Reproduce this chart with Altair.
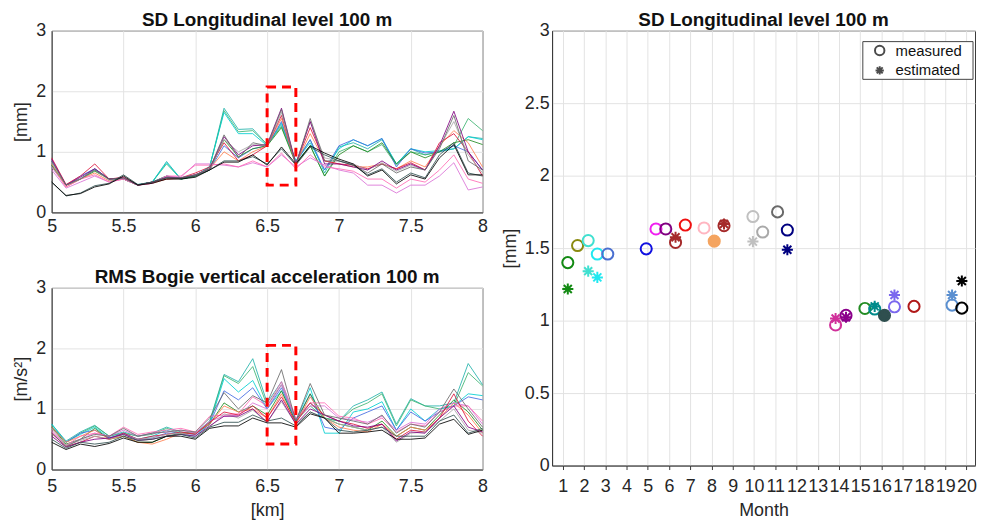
import altair as alt
import pandas as pd

FONT = "Liberation Sans"

# ---------------- left panels: km positions ----------------
km = [5.0, 5.1, 5.2, 5.3, 5.4, 5.5, 5.6, 5.7, 5.8, 5.9, 6.0,
      6.1, 6.2, 6.3, 6.4, 6.5, 6.6, 6.7, 6.8, 6.9, 7.0,
      7.1, 7.2, 7.3, 7.4, 7.5, 7.6, 7.7, 7.8, 7.9, 8.0]

# SD Longitudinal level 100 m  [mm]
top_colors = ["#20B2AA", "#3CB371", "#00CED1", "#4169E1", "#228B22", "#FF7F50",
              "#DA70D6", "#FF69B4", "#DC143C", "#A9A9A9", "#800080", "#696969",
              "#2F4F4F", "#000000"]
top_series = [
    [.78, .45, .55, .70, .55, .55, .45, .50, .84, .55, .60, .75, 1.72, 1.37, 1.38, 1.12, 1.45, .85, 1.20, .65, 1.08, 1.15, 1.05, 1.20, .80, 1.05, .95, 1.00, 1.05, 1.25, 1.22],
    [.80, .45, .55, .72, .55, .56, .45, .50, .80, .55, .60, .75, 1.68, 1.33, 1.35, 1.12, 1.42, .82, 1.10, .60, 1.00, 1.10, 1.00, 1.12, .78, 1.00, .95, 1.00, 1.10, 1.55, 1.35],
    [.75, .45, .55, .70, .55, .55, .46, .50, .82, .55, .60, .76, 1.65, 1.30, 1.30, 1.10, 1.48, .85, 1.15, .70, 1.05, 1.20, 1.10, 1.22, .80, 1.05, 1.00, 1.02, 1.05, 1.25, 1.20],
    [.85, .45, .60, .72, .55, .55, .45, .50, .60, .56, .62, .70, 1.10, .90, 1.05, 1.10, 1.50, .82, 1.20, .70, 1.10, 1.20, 1.10, 1.22, .75, 1.05, .98, 1.00, 1.10, 1.00, .70],
    [.78, .45, .55, .68, .55, .55, .45, .50, .60, .55, .60, .70, 1.20, .92, 1.05, 1.10, 1.40, .80, 1.10, .60, .95, 1.10, 1.00, 1.15, .80, 1.00, .90, 1.00, 1.15, 1.20, 1.12],
    [.80, .42, .55, .65, .52, .55, .45, .48, .55, .56, .62, .72, 1.00, .85, 1.00, 1.10, 1.55, .80, 1.30, .85, .80, .75, .75, .80, .72, .85, .75, 1.10, 1.35, 1.15, .75],
    [.70, .40, .50, .60, .50, .55, .45, .48, .60, .58, .80, .80, .78, .75, .82, .75, .95, .75, .90, .78, .70, .65, .45, .45, .32, .45, .45, .60, .82, .37, .42],
    [.75, .42, .55, .62, .50, .55, .45, .48, .60, .60, .78, .78, .80, .75, .85, .75, .98, .72, .95, .75, .72, .68, .55, .55, .40, .55, .50, .70, .95, .55, .48],
    [.90, .46, .60, .80, .55, .58, .45, .50, .55, .57, .65, .75, 1.15, .85, .95, 1.10, 1.60, .80, 1.40, .85, .80, .78, .72, .80, .72, .82, .70, 1.15, 1.30, 1.00, .60],
    [.82, .45, .55, .70, .53, .56, .45, .50, .58, .57, .62, .72, 1.20, 1.00, 1.12, 1.10, 1.65, .80, 1.50, .90, .85, .80, .70, .82, .68, .78, .70, 1.08, 1.50, .95, .65],
    [.88, .45, .58, .72, .55, .57, .45, .50, .58, .57, .62, .72, 1.25, .95, 1.10, 1.12, 1.72, .80, 1.50, .80, .80, .75, .70, .85, .70, .80, .70, 1.10, 1.67, 1.00, .70],
    [.85, .45, .55, .70, .55, .57, .45, .50, .57, .57, .62, .72, 1.28, .90, 1.15, 1.10, 1.70, .78, 1.55, .85, .85, .78, .65, .80, .65, .75, .70, 1.05, 1.60, .85, .70],
    [.50, .27, .32, .44, .48, .62, .46, .50, .57, .56, .60, .70, .85, .85, .92, .80, 1.05, .78, 1.08, .95, .85, .78, .62, .72, .50, .65, .57, .95, 1.15, .65, .60],
    [.50, .28, .31, .42, .47, .60, .45, .48, .55, .55, .58, .70, .83, .83, .95, .78, 1.08, .80, 1.10, .98, .88, .80, .60, .70, .47, .62, .55, .90, 1.12, .62, .62],
]

# RMS Bogie vertical acceleration 100 m  [m/s2]
bot_colors = ["#40E0D0", "#00CED1", "#2E8B57", "#9ACD32", "#F4A460", "#FFA07A",
              "#4682B4", "#4169E1", "#BA55D3", "#C71585", "#8B008B", "#483D8B",
              "#2F4F4F", "#000000"]
bot_series = [
    [.75, .47, .62, .73, .55, .62, .55, .60, .70, .62, .60, .80, 1.57, 1.45, 1.83, 1.10, 1.45, .82, 1.10, .85, .80, 1.05, 1.15, 1.28, .75, 1.17, 1.05, 1.05, 1.10, 1.75, 1.40],
    [.72, .45, .60, .72, .55, .60, .55, .58, .68, .60, .60, .78, 1.55, 1.42, 1.70, 1.05, 1.40, .80, 1.05, .85, .80, 1.00, 1.10, 1.25, .72, 1.15, 1.05, 1.00, 1.05, 1.60, 1.38],
    [.75, .45, .58, .70, .52, .58, .50, .55, .65, .58, .55, .75, 1.50, 1.28, 1.47, 1.00, 1.30, .80, 1.35, .60, .60, .95, 1.00, 1.12, .65, 1.00, .80, 1.00, 1.05, 1.25, 1.22],
    [.70, .45, .60, .65, .52, .60, .50, .52, .60, .60, .58, .75, 1.30, 1.15, 1.35, 1.00, 1.35, .80, 1.25, .70, .65, .85, .95, 1.05, .65, .95, .80, .95, 1.05, 1.20, 1.15],
    [.70, .42, .50, .68, .50, .55, .45, .45, .55, .60, .60, .75, 1.10, .95, 1.05, .90, 1.30, .78, 1.25, .85, .75, .70, .65, .80, .55, .70, .65, .90, 1.15, .95, .65],
    [.70, .45, .55, .65, .50, .55, .45, .42, .50, .60, .60, .75, 1.05, .95, 1.00, .85, 1.25, .75, 1.20, .85, .70, .65, .62, .75, .55, .70, .65, .85, 1.10, .90, .60],
    [.62, .40, .50, .60, .55, .65, .55, .60, .62, .65, .60, .80, .88, .90, 1.10, 1.00, 1.40, .82, 1.05, 1.05, .85, .82, .78, .88, .65, .78, .75, 1.00, 1.10, 1.05, .75],
    [.65, .40, .55, .60, .55, .70, .58, .62, .65, .68, .62, .88, .90, .92, 1.20, 1.05, 1.45, .85, 1.10, 1.10, .88, .85, .75, .85, .62, .75, .72, .95, 1.05, 1.05, .80],
    [.60, .38, .45, .55, .50, .60, .50, .55, .58, .62, .58, .78, .95, .90, 1.05, .85, 1.20, .78, 1.10, .90, .80, .75, .68, .75, .50, .65, .62, .85, 1.25, .80, .55],
    [.68, .40, .48, .55, .50, .58, .50, .52, .58, .60, .55, .70, .92, .85, .98, .78, 1.12, .75, .95, .85, .75, .70, .65, .70, .45, .60, .62, .80, 1.00, .65, .60],
    [.55, .37, .45, .50, .52, .58, .48, .50, .55, .58, .55, .72, .88, .88, 1.00, .78, 1.15, .75, 1.00, .90, .80, .72, .70, .75, .47, .62, .60, .85, 1.05, .70, .62],
    [.60, .38, .50, .58, .55, .68, .55, .60, .62, .65, .62, .85, 1.27, 1.00, 1.22, 1.10, 1.65, .80, 1.42, .90, .85, .80, .75, .90, .60, .75, .70, .95, 1.33, 1.00, .70],
    [.50, .35, .45, .42, .45, .55, .48, .50, .55, .58, .52, .70, .78, .78, .90, .80, .85, .72, .95, .85, .65, .62, .65, .70, .55, .55, .55, .80, .90, .60, .68],
    [.45, .33, .42, .38, .43, .52, .45, .45, .55, .55, .50, .68, .72, .72, .85, .77, .77, .70, .92, .85, .60, .60, .62, .65, .50, .50, .52, .75, .83, .58, .65],
]

# dashed highlight boxes (km / value extents)
box_top = {"x0": [6.5], "x1": [6.7], "y0": [0.45], "y1": [2.07]}
box_bot = {"x0": [6.5], "x1": [6.7], "y0": [0.42], "y1": [2.05]}

# ---------------- right panel ----------------
meas_month = [1.24, 1.70, 2.20, 2.63, 3.12, 4.93, 5.39, 5.85, 6.31, 6.77, 7.65, 8.13, 8.59,
              9.95, 10.41, 11.11, 11.57, 13.84, 14.33, 15.22, 15.68, 16.14, 16.61, 17.53,
              19.32, 19.78]
meas_value = [1.40, 1.518, 1.552, 1.459, 1.459, 1.495, 1.632, 1.632, 1.539, 1.659, 1.639, 1.548, 1.655,
              1.718, 1.611, 1.75, 1.625, 0.970, 1.036, 1.084, 1.080, 1.036, 1.095, 1.098,
              1.107, 1.086]
meas_color = ["#138a13", "#8a8a10", "#40E0D0", "#20E8F0", "#4a6fd0", "#1010E0", "#F020F0", "#800080",
              "#A52A2A", "#F01010", "#FFB6C1", "#F4A460", "#A52A2A", "#C0C0C0", "#A9A9A9", "#696969",
              "#000080", "#D0309A", "#8B008B", "#228B22", "#008B8B", "#2F4F4F", "#7B68EE", "#B01818",
              "#5A8FD0", "#000000"]
meas_filled = [False, False, False, False, False, False, False, False, False, False, False, True, False,
               False, False, False, False, False, False, False, False, True, False, False,
               False, False]

est_month = [1.24, 2.20, 2.63, 6.31, 8.59, 9.95, 11.57, 13.84, 14.33, 15.68, 16.14, 16.61, 19.32, 19.78]
est_value = [1.218, 1.341, 1.298, 1.575, 1.666, 1.545, 1.489, 1.014, 1.023, 1.098, 1.04, 1.177, 1.177, 1.273]
est_color = ["#138a13", "#40E0D0", "#20E8F0", "#A52A2A", "#A52A2A", "#C0C0C0", "#000080", "#D0309A",
             "#8B008B", "#008B8B", "#2F4F4F", "#7B68EE", "#5A8FD0", "#000000"]

month_ticks = list(range(1, 21))
legend_labels = ["measured", "estimated"]
STAR = "M0,-1L0,1M-1,0L1,0M-0.72,-0.72L0.72,0.72M-0.72,0.72L0.72,-0.72"

# ---------------- build tables ----------------
def long_table(series, colors):
    rows = []
    for i, vals in enumerate(series):
        for x, v in zip(km, vals):
            rows.append({"km": x, "v": v, "s": f"s{i:02d}", "c": colors[i]})
    return pd.DataFrame(rows)

df_top = long_table(top_series, top_colors)
df_bot = long_table(bot_series, bot_colors)

pts = []
for m, v, c, f in zip(meas_month, meas_value, meas_color, meas_filled):
    pts.append({"month": m, "v": v, "c": c, "fill": c if f else "transparent", "type": "measured", "o": 0})
for m, v, c in zip(est_month, est_value, est_color):
    pts.append({"month": m, "v": v, "c": c, "fill": "transparent", "type": "estimated", "o": 1})
df_pts = pd.DataFrame(pts)

GRID = "#e3e3e3"
AX = "#3a3a3a"
TITLE_SIZE = 19
RW = 426  # right plot width


def line_panel(df, box, title, ytitle, xtitle, colors, lab_pad):
    names = [f"s{i:02d}" for i in range(len(colors))]
    xaxis = alt.Axis(values=[5, 5.5, 6, 6.5, 7, 7.5, 8], title=xtitle, grid=True, ticks=False,
                     labelPadding=lab_pad, titlePadding=6, labelFlush=False, format="~g")
    yaxis = alt.Axis(values=[0, 1, 2, 3], title=ytitle, grid=True, ticks=False,
                     labelPadding=6, titlePadding=5, format="~g")
    lines = alt.Chart(df).mark_line(strokeWidth=1, opacity=0.85).encode(
        x=alt.X("km:Q", scale=alt.Scale(domain=[5, 8], nice=False), axis=xaxis),
        y=alt.Y("v:Q", scale=alt.Scale(domain=[0, 3], nice=False), axis=yaxis),
        color=alt.Color("s:N", scale=alt.Scale(domain=names, range=colors), legend=None),
        order=alt.Order("km:Q"),
    )
    rect = alt.Chart(pd.DataFrame(box)).mark_rect(
        fillOpacity=0, stroke="#ff0000", strokeWidth=3, strokeDash=[9, 6]
    ).encode(x="x0:Q", x2="x1:Q", y="y0:Q", y2="y1:Q")
    return alt.layer(lines, rect).properties(
        width=434, height=183,
        title=alt.TitleParams(title, fontSize=TITLE_SIZE, fontWeight="bold", font=FONT, color="#111", offset=-8),
    )

top = line_panel(df_top, box_top, "SD Longitudinal level 100 m", "[mm]", None, top_colors, 5)
bot = line_panel(df_bot, box_bot, "RMS Bogie vertical acceleration 100 m", "[m/s²]", "[km]", bot_colors, 8)

pts_layer = alt.Chart(df_pts).mark_point(size=125, strokeWidth=2, opacity=1).encode(
    x=alt.X("month:Q", scale=alt.Scale(domain=[0.5, 20.4], nice=False),
            axis=alt.Axis(values=month_ticks, title="Month", grid=True, ticks=True, tickSize=4,
                          labelPadding=8, titlePadding=6, labelFlush=False)),
    y=alt.Y("v:Q", scale=alt.Scale(domain=[0, 3], nice=False),
            axis=alt.Axis(values=[0, 0.5, 1, 1.5, 2, 2.5, 3], title="[mm]", grid=True, ticks=False,
                          labelPadding=3, titlePadding=5, format="~g")),
    shape=alt.Shape("type:N", scale=alt.Scale(domain=legend_labels, range=["circle", STAR]), legend=None),
    stroke=alt.Stroke("c:N", scale=None),
    fill=alt.Fill("fill:N", scale=None),
    order=alt.Order("o:Q"),
)

# manual legend box (pixel positions within the plot area)
leg_df = pd.DataFrame({"label": legend_labels})
leg_box = alt.Chart(leg_df).transform_filter(alt.datum.label == "measured").mark_rect(
    fill="white", stroke="#444", strokeWidth=1
).encode(x=alt.value(RW - 113), x2=alt.value(RW - 2), y=alt.value(11), y2=alt.value(49))
leg_circle = alt.Chart(leg_df).transform_filter(alt.datum.label == "measured").mark_point(
    shape="circle", size=90, strokeWidth=2, color="black", filled=False
).encode(x=alt.value(RW - 96), y=alt.value(20))
leg_star = alt.Chart(leg_df).transform_filter(alt.datum.label == "estimated").mark_point(
    shape=STAR, size=70, strokeWidth=2, color="black", filled=False
).encode(x=alt.value(RW - 96), y=alt.value(40))
leg_text1 = alt.Chart(leg_df).transform_filter(alt.datum.label == "measured").mark_text(
    align="left", baseline="middle", fontSize=15, font=FONT, color="#111"
).encode(x=alt.value(RW - 80), y=alt.value(20), text="label:N")
leg_text2 = alt.Chart(leg_df).transform_filter(alt.datum.label == "estimated").mark_text(
    align="left", baseline="middle", fontSize=15, font=FONT, color="#111"
).encode(x=alt.value(RW - 80), y=alt.value(40), text="label:N")

right = alt.layer(pts_layer, leg_box, leg_circle, leg_star, leg_text1, leg_text2).properties(
    width=RW, height=438,
    title=alt.TitleParams("SD Longitudinal level 100 m", fontSize=TITLE_SIZE, fontWeight="bold", font=FONT,
                          color="#111", offset=-8),
)

left = alt.vconcat(top, bot, spacing=31)
chart = alt.hconcat(left, right, spacing=12).properties(
    padding={"left": 4, "top": 0, "right": 0, "bottom": 0}
).configure_view(stroke=AX, strokeWidth=1).configure_axis(
    labelFont=FONT, titleFont=FONT, labelFontSize=18, titleFontSize=18, titleFontWeight="normal",
    labelColor="#262626", titleColor="#262626", gridColor=GRID, gridWidth=1, domainColor=AX,
    tickColor=AX,
)

chart.save("out.html", embed_options={"renderer": "svg", "actions": False})
